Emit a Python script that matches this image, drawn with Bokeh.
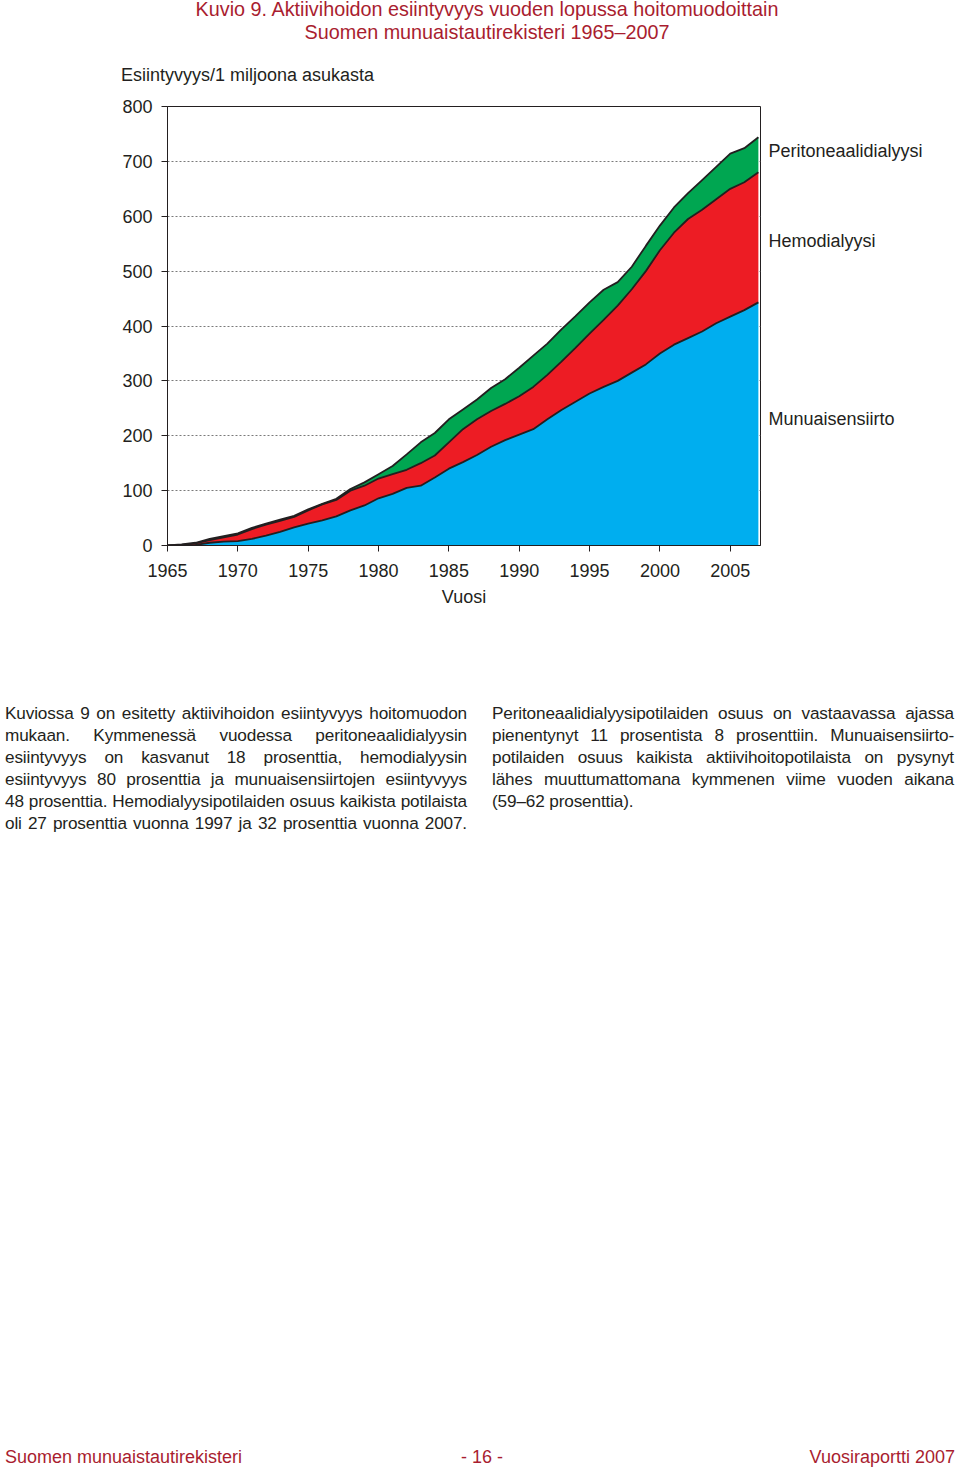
from bokeh.plotting import figure
from bokeh.models import Range1d, FixedTicker, Div, Spacer, ColumnDataSource, LinearAxis
from bokeh.layouts import column, row
from bokeh.transform import stack
from bokeh.embed import file_html
from bokeh.resources import INLINE

# ---- data (prevalence per million population, end of year) ----
years = list(range(1965, 2008))
transplant = [0, 0, 1, 5, 7, 8, 12, 18, 25, 33,
              40, 46, 53, 64, 73, 86, 94, 105, 109, 124,
              140, 152, 165, 180, 192, 202, 212, 230, 247, 262,
              277, 289, 300, 315, 330, 350, 366, 378, 390, 405,
              417, 429, 443]
hemodialysis = [0, 1, 3, 5, 8, 12, 18, 20, 20, 19,
                24, 29, 30, 36, 36, 36, 36, 33, 41, 40,
                48, 60, 65, 65, 66, 70, 77, 81, 88, 98,
                109, 122, 137, 152, 170, 188, 204, 217, 222, 226,
                233, 233, 237]
peritoneal = [0, 1, 1, 2, 2, 2, 2, 2, 2, 2,
              2, 1, 2, 3, 6, 8, 15, 28, 38, 41,
              42, 36, 36, 42, 45, 52, 57, 57, 59, 58,
              57, 55, 43, 41, 46, 45, 46, 47, 54, 59,
              64, 62, 64]
series_names = ["Munuaisensiirto", "Hemodialyysi", "Peritoneaalidialyysi"]
y_ticks = list(range(0, 801, 100))
x_ticks = list(range(1965, 2006, 5))

title1 = "Kuvio 9. Aktiivihoidon esiintyvyys vuoden lopussa hoitomuodoittain"
title2 = "Suomen munuaistautirekisteri 1965\u20132007"
y_title = "Esiintyvyys/1 miljoona asukasta"
x_title = "Vuosi"

col1_lines = [
    "Kuviossa 9 on esitetty aktiivihoidon esiintyvyys hoitomuodon",
    "mukaan. Kymmenessä vuodessa peritoneaalidialyysin",
    "esiintyvyys on kasvanut 18 prosenttia, hemodialyysin",
    "esiintyvyys 80 prosenttia ja munuaisensiirtojen esiintyvyys",
    "48 prosenttia. Hemodialyysipotilaiden osuus kaikista potilaista",
    "oli 27 prosenttia vuonna 1997 ja 32 prosenttia vuonna 2007.",
]
col2_lines = [
    "Peritoneaalidialyysipotilaiden osuus on vastaavassa ajassa",
    "pienentynyt 11 prosentista 8 prosenttiin. Munuaisensiirto-",
    "potilaiden osuus kaikista aktiivihoitopotilaista on pysynyt",
    "lähes muuttumattomana kymmenen viime vuoden aikana",
    "(59\u201362 prosenttia).",
]
footer_left = "Suomen munuaistautirekisteri"
footer_mid = "- 16 -"
footer_right = "Vuosiraportti 2007"

# ---- styles ----
FONT = "Liberation Sans"
INK = "#231f20"
DARKRED = "#a91d2f"
BLUE = "#00aeef"
RED = "#ed1c24"
GREEN = "#00a651"

# ---- header (titles + y axis title) ----
head_html = (
    '<div style="position:relative;width:960px;height:88px;font-family:\'{f}\';">'
    '<div style="position:absolute;left:487px;top:-3px;transform:translateX(-50%);white-space:nowrap;'
    'font-size:19.8px;line-height:24px;color:{r};">{t1}</div>'
    '<div style="position:absolute;left:487px;top:20px;transform:translateX(-50%);white-space:nowrap;'
    'font-size:19.8px;line-height:24px;color:{r};">{t2}</div>'
    '<div style="position:absolute;left:121px;top:64px;white-space:nowrap;'
    'font-size:18px;line-height:22px;color:{k};">{yt}</div>'
    '</div>'
).format(f=FONT, r=DARKRED, k=INK, t1=title1, t2=title2, yt=y_title)
head = Div(text=head_html, width=960, height=88, margin=(0, 0, 0, 0))

# ---- chart ----
X0, X1 = 1965, 2007.15
p = figure(width=950, height=614, x_range=Range1d(X0, X1), y_range=Range1d(0, 800),
           output_backend="svg", toolbar_location=None,
           min_border_left=167, min_border_right=190, min_border_top=18, min_border_bottom=157)
p.outline_line_color = INK
p.outline_line_width = 1
p.background_fill_color = "white"
p.border_fill_color = "white"

p.xgrid.visible = False
p.ygrid.grid_line_color = "#7a7a7a"
p.ygrid.grid_line_dash = "2 2"
p.ygrid.grid_line_width = 1

p.yaxis.ticker = FixedTicker(ticks=y_ticks)
p.xaxis.ticker = FixedTicker(ticks=x_ticks)
for ax in (p.xaxis, p.yaxis):
    ax.axis_line_color = INK
    ax.axis_line_width = 1
    ax.major_tick_line_color = INK
    ax.major_tick_out = 6
    ax.major_tick_in = 0
    ax.minor_tick_out = 0
    ax.minor_tick_in = 0
    ax.major_label_text_font = FONT
    ax.major_label_text_font_size = "18px"
    ax.major_label_text_color = INK
p.yaxis.major_label_standoff = 9
p.xaxis.major_label_standoff = 12
p.xaxis.axis_label = x_title
p.xaxis.axis_label_text_font = FONT
p.xaxis.axis_label_text_font_size = "18px"
p.xaxis.axis_label_text_font_style = "normal"
p.xaxis.axis_label_text_color = INK
p.xaxis.axis_label_standoff = 7

# series names at the right edge, as a label-only axis
name_pos = [231, 554, 718]
right_ax = LinearAxis(ticker=FixedTicker(ticks=name_pos),
                      major_label_overrides={name_pos[0]: series_names[0],
                                             name_pos[1]: series_names[1],
                                             name_pos[2]: series_names[2]},
                      axis_line_color=None, major_tick_line_color=None,
                      minor_tick_line_color=None, major_tick_out=0, major_tick_in=0,
                      major_label_standoff=8,
                      major_label_text_font=FONT, major_label_text_font_size="18px",
                      major_label_text_color=INK)
p.add_layout(right_ax, "right")

src = ColumnDataSource(dict(year=years, tx=transplant, hd=hemodialysis, pd=peritoneal))
p.varea_stack(["tx", "hd", "pd"], x="year", color=[BLUE, RED, GREEN], source=src)
p.line(x="year", y=stack("tx"), source=src, line_color=INK, line_width=1.8)
p.line(x="year", y=stack("tx", "hd"), source=src, line_color=INK, line_width=1.8)
p.line(x="year", y=stack("tx", "hd", "pd"), source=src, line_color=INK, line_width=1.8)

# ---- body text ----
def block(lines, last_justified, shift):
    out = []
    for i, ln in enumerate(lines):
        last = "justify" if (i < len(lines) - 1 or last_justified) else "left"
        out.append('<div style="white-space:nowrap;text-align:justify;text-align-last:%s;">%s</div>' % (last, ln))
    return ('<div style="font-family:\'%s\';font-size:17.2px;letter-spacing:-0.15px;line-height:22px;color:%s;'
            'margin-left:%dpx;width:%dpx;">%s</div>') % (FONT, INK, shift, 462, "".join(out))

d1 = Div(text=block(col1_lines, True, 5), width=467, height=140, margin=(0, 0, 0, 0))
d2 = Div(text=block(col2_lines, False, 0), width=463, height=140, margin=(0, 0, 0, 0))
body = row(d1, Spacer(width=25, height=140), d2)

foot_html = ('<div style="position:relative;width:955px;height:20px;font-family:\'%s\';'
             'font-size:18px;line-height:20px;color:%s;">'
             '<span style="position:absolute;left:5px;top:0;white-space:nowrap;">%s</span>'
             '<span style="position:absolute;left:482px;top:0;transform:translateX(-50%%);white-space:nowrap;">%s</span>'
             '<span style="position:absolute;right:0;top:0;white-space:nowrap;">%s</span></div>') % (
    FONT, DARKRED, footer_left, footer_mid, footer_right)
foot = Div(text=foot_html, width=955, height=20, margin=(0, 0, 0, 0))

layout = column(head, p, body, Spacer(width=10, height=605), foot)

open("out.html", "w").write(file_html(layout, INLINE))
